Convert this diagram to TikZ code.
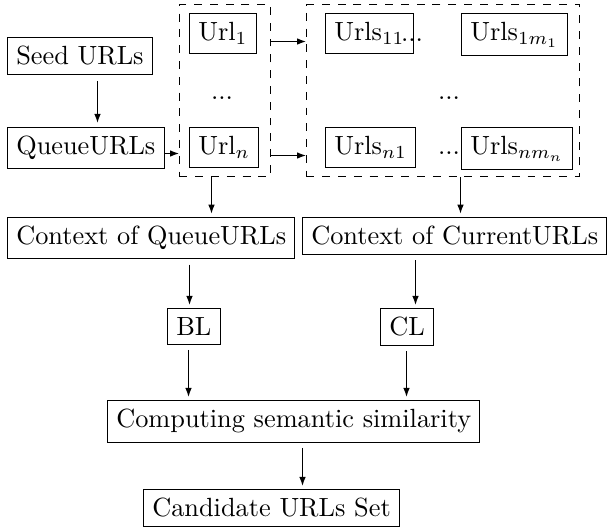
\documentclass[tikz,border=0pt]{standalone}
\usetikzlibrary{arrows.meta,fit}
\begin{document}
\begin{tikzpicture}[x=0.38pt,y=-0.38pt,
  box/.style={draw, anchor=north west, line width=0.4pt},
  dotsnode/.style={inner sep=0pt, anchor=base},
  grp/.style={draw, dashed, inner sep=0pt},
  arr/.style={-{Latex[length=3.4pt,width=2.5pt]}},
  gap/.style={shorten <=2pt, shorten >=1.2pt}]
\useasboundingbox (0,0) rectangle (608,526);
% main boxes
\node[box] (seed) at (7,37) {Seed URLs};
\node[box] (queue) at (7,127) {QueueURLs};
\node[box] (url1) at (189,13) {Url$_1$};
\node[box] (urln) at (189,127) {Url$_n$};
\node[box] (u11) at (325,13) {Urls$_{11}$};
\node[box] (u1m) at (461,13) {Urls$_{1m_1}$};
\node[box] (un1) at (325,127) {Urls$_{n1}$};
\node[box] (unm) at (461,127) {Urls$_{nm_n}$};
\node[box] (ctxq) at (7,217) {Context of QueueURLs};
\node[box] (ctxc) at (302,217) {Context of CurrentURLs};
\node[box] (bl) at (167,308) {BL};
\node[box] (cl) at (380,308) {CL};
\node[box] (comp) at (107,400) {Computing semantic similarity};
\node[box] (cand) at (143,489) {Candidate URLs Set};
% dots
\node[dotsnode] (d1) at (222,99) {...};
\node[dotsnode] (d2) at (449,99) {...};
\node[dotsnode] (d3) at (412,41) {...};
\node[dotsnode] (d4) at (449,154) {...};
% dashed groups
\coordinate (g1a) at (179.5,4.5);
\coordinate (g1b) at (270.5,176.5);
\coordinate (g2a) at (306.5,4.5);
\coordinate (g2b) at (579.5,176.5);
\node[grp, fit=(g1a)(g1b)] (g1) {};
\node[grp, fit=(g2a)(g2b)] (g2) {};
% connector guide coordinates
\coordinate (c1) at (97.5,0);
\coordinate (c2) at (0,153.5);
\coordinate (c3) at (0,41.5);
\coordinate (c4) at (0,155.5);
\coordinate (c5) at (211.5,0);
\coordinate (c6) at (460.5,0);
\coordinate (c7) at (189.5,0);
\coordinate (c8) at (415.5,0);
\coordinate (c9) at (188.5,0);
\coordinate (c10) at (406.5,0);
\coordinate (c11) at (302.5,0);
% connectors
\draw[arr, shorten <=2.3pt, shorten >=1.6pt] (seed.south -| c1) -- (queue.north -| c1);
\draw[arr] (queue.east |- c2) -- (g1.west |- c2);
\draw[arr] (g1.east |- c3) -- (g2.west |- c3);
\draw[arr] (g1.east |- c4) -- (g2.west |- c4);
\draw[arr, shorten >=1.3pt] (g1.south -| c5) -- (ctxq.north -| c5);
\draw[arr, shorten >=1.3pt] (g2.south -| c6) -- (ctxc.north -| c6);
\draw[arr, gap] (ctxq.south -| c7) -- (bl.north -| c7);
\draw[arr, gap] (ctxc.south -| c8) -- (cl.north -| c8);
\draw[arr, gap] (bl.south -| c9) -- (comp.north -| c9);
\draw[arr, gap] (cl.south -| c10) -- (comp.north -| c10);
\draw[arr, gap] (comp.south -| c11) -- (cand.north -| c11);
\end{tikzpicture}
\end{document}
